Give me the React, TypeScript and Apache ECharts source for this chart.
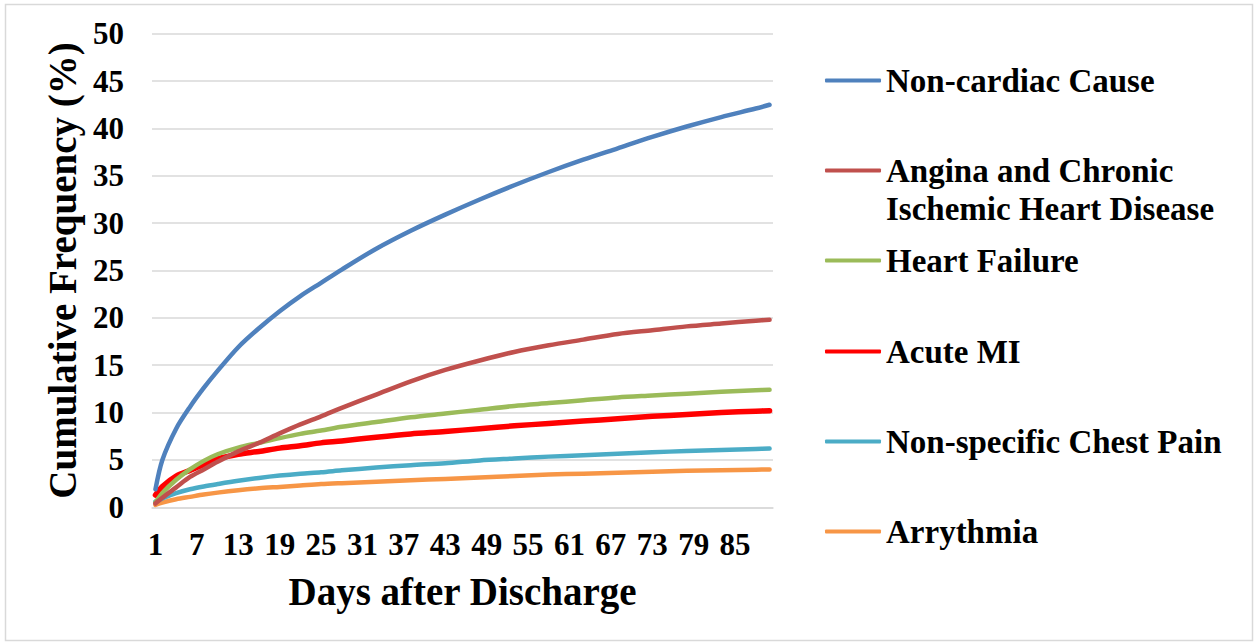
import React, { useEffect, useRef } from "react";
import * as echarts from "echarts";

const days = [1, 2, 4, 6, 8, 10, 13, 16, 19, 22, 25, 28, 33, 38, 43, 48, 53, 58, 63, 68, 73, 78, 83, 88, 90];

const nonCardiac = [1.9, 5.0, 8.3, 10.6, 12.6, 14.4, 16.9, 18.9, 20.7, 22.3, 23.7, 25.1, 27.3, 29.2, 30.9, 32.5, 34.0, 35.4, 36.7, 37.9, 39.1, 40.2, 41.2, 42.1, 42.5];
const angina = [0.4, 1.0, 2.1, 3.2, 4.0, 4.8, 5.9, 6.8, 7.8, 8.75, 9.6, 10.5, 11.9, 13.3, 14.5, 15.5, 16.4, 17.1, 17.7, 18.3, 18.7, 19.1, 19.4, 19.7, 19.8];
const heartFailure = [0.5, 1.5, 2.9, 4.0, 4.9, 5.6, 6.3, 6.8, 7.3, 7.75, 8.1, 8.5, 9.0, 9.5, 9.9, 10.3, 10.7, 11.0, 11.3, 11.6, 11.8, 12.0, 12.2, 12.35, 12.4];
const acuteMI = [1.3, 2.2, 3.3, 3.9, 4.5, 5.1, 5.6, 5.9, 6.25, 6.5, 6.8, 7.0, 7.4, 7.75, 8.0, 8.3, 8.6, 8.85, 9.1, 9.35, 9.6, 9.8, 10.0, 10.15, 10.2];
const chestPain = [0.6, 0.95, 1.5, 1.9, 2.2, 2.45, 2.8, 3.1, 3.35, 3.55, 3.7, 3.9, 4.2, 4.45, 4.65, 4.95, 5.15, 5.35, 5.5, 5.65, 5.8, 5.95, 6.05, 6.15, 6.2];
const arrythmia = [0.25, 0.5, 0.85, 1.1, 1.35, 1.55, 1.8, 2.0, 2.15, 2.3, 2.45, 2.55, 2.7, 2.85, 3.0, 3.15, 3.3, 3.45, 3.55, 3.65, 3.75, 3.85, 3.9, 3.97, 4.0];

const seriesNames = [
  "Non-cardiac Cause",
  "Angina and Chronic Ischemic Heart Disease",
  "Heart Failure",
  "Acute MI",
  "Non-specific Chest Pain",
  "Arrythmia",
];
const seriesValues = [nonCardiac, angina, heartFailure, acuteMI, chestPain, arrythmia];
const seriesColors = ["#4F81BD", "#C0504D", "#9BBB59", "#FF0000", "#4BACC6", "#F79646"];
const seriesWidths = [4.5, 4.5, 4.5, 5.5, 4.5, 4.5];

const dayCount = 90;
const dayCategories = Array.from({ length: dayCount }, (_, i) => String(i + 1));

const FONT = "Liberation Serif";

export default function App() {
  const ref = useRef<HTMLDivElement>(null);

  useEffect(() => {
    if (!ref.current) return;
    const chart = echarts.init(ref.current, undefined, { renderer: "svg" });

    const legendTops = [64, 154, 244, 335, 425, 515];

    const option: any = {
      animation: false,
      backgroundColor: "#ffffff",
      grid: { left: 152, right: 483, top: 33.7, bottom: 135.7 },
      xAxis: {
        type: "category",
        data: dayCategories,
        boundaryGap: true,
        name: "Days after Discharge",
        nameLocation: "middle",
        nameGap: 65,
        nameTextStyle: { fontFamily: FONT, fontWeight: "bold", fontSize: 39, color: "#000" },
        axisLine: { show: true, lineStyle: { color: "#d9d9d9", width: 1.5 } },
        axisTick: { show: false },
        axisLabel: {
          interval: 5,
          margin: 22,
          fontFamily: FONT,
          fontWeight: "bold",
          fontSize: 31,
          color: "#000",
        },
        splitLine: { show: false },
      },
      yAxis: {
        type: "value",
        min: 0,
        max: 50,
        interval: 5,
        name: "Cumulative Frequency (%)",
        nameLocation: "middle",
        nameGap: 70,
        nameTextStyle: { fontFamily: FONT, fontWeight: "bold", fontSize: 39, color: "#000" },
        axisLine: { show: false },
        axisTick: { show: false },
        axisLabel: {
          margin: 28,
          fontFamily: FONT,
          fontWeight: "bold",
          fontSize: 31,
          color: "#000",
        },
        splitLine: { show: true, lineStyle: { color: "#d9d9d9", width: 1.5 } },
      },
      legend: seriesNames.map((name, i) => ({
        data: [name],
        left: 825,
        top: legendTops[i],
        orient: "vertical",
        padding: 0,
        itemWidth: 56,
        itemHeight: 4,
        icon: "roundRect",
        selectedMode: false,
        formatter: (n: string) => (n.startsWith("Angina") ? "Angina and Chronic" : n),
        textStyle: { fontFamily: FONT, fontWeight: "bold", fontSize: 33, color: "#000" },
      })),
      graphic: [
        {
          type: "rect",
          shape: { x: 5.5, y: 4.5, width: 1247, height: 636 },
          style: { fill: "none", stroke: "#d9d9d9", lineWidth: 1.5 },
          silent: true,
        },
        {
          type: "text",
          left: 886,
          top: 192,
          style: {
            text: "Ischemic Heart Disease",
            fontFamily: FONT,
            fontWeight: "bold",
            fontSize: 33,
            fill: "#000",
          },
        },
      ],
      series: seriesNames.map((name, i) => ({
        name,
        type: "line",
        data: days.map((d, j) => [String(d), seriesValues[i][j]]),
        symbol: "none",
        smooth: 0.3,
        lineStyle: { color: seriesColors[i], width: seriesWidths[i], cap: "round", join: "round" },
        itemStyle: { color: seriesColors[i] },
        z: 10 - i,
      })),
    };

    chart.setOption(option);
    return () => chart.dispose();
  }, []);

  return (
    <div
      ref={ref}
      style={{ position: "fixed", left: 0, top: 0, width: 1256, height: 643 }}
    />
  );
}
